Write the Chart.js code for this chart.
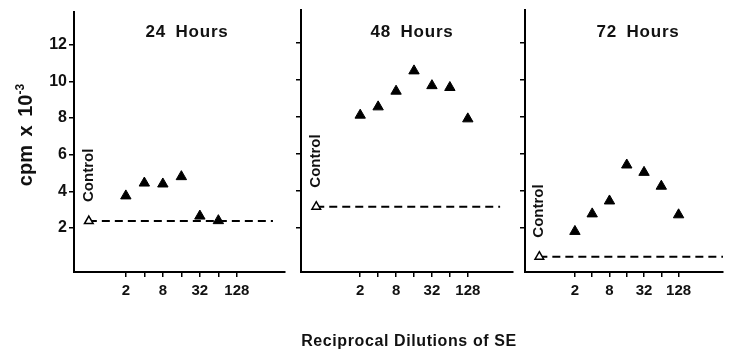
<!DOCTYPE html>
<html>
<head>
<meta charset="utf-8">
<script src="https://cdn.jsdelivr.net/npm/chart.js@4.4.0/dist/chart.umd.min.js"></script>
<style>
  body { margin: 0; background: #fff; }
  #wrap { position: relative; width: 730px; height: 350px; overflow: hidden; font-family: "Liberation Sans", Arial, sans-serif; color: #111; }
  #wrap canvas { position: absolute; left: 0; top: 0; }
  .ytitle { position: absolute; left: -80px; top: 121px; width: 200px; height: 28px; line-height: 28px; text-align: center; font-weight: bold; font-size: 20px; transform: rotate(-90deg); word-spacing: 3px; }
  .ytitle sup { font-size: 12px; }
  .xtitle { position: absolute; left: 259px; top: 332px; width: 300px; text-align: center; font-weight: bold; font-size: 16px; letter-spacing: 0.6px; }
</style>
</head>
<body>
<div id="wrap">
  <canvas id="c24" width="730" height="350"></canvas>
  <canvas id="c48" width="730" height="350"></canvas>
  <canvas id="c72" width="730" height="350"></canvas>
  <div class="ytitle">cpm x 10<sup>-3</sup></div>
  <div class="xtitle">Reciprocal Dilutions of SE</div>
</div>
<script>
// reciprocal dilutions of SE on the x axis
const dilutions = [2, 4, 8, 16, 32, 64, 128]
const xTickLabels = ['2', '', '8', '', '32', '', '128']
const yTicks = [2, 4, 6, 8, 10, 12]

const panelTitles = ['24 Hours', '48 Hours', '72 Hours']
// cpm x 10^-3 for each dilution
const cpm24 = [3.75, 4.45, 4.4, 4.8, 2.65, 2.4]
const cpm48 = [8.1, 8.55, 9.4, 10.5, 9.7, 9.6, 7.9]
const cpm72 = [1.8, 2.75, 3.45, 5.4, 5.0, 4.25, 2.7]
const controlCpm = [2.38, 3.14, 0.43]

const series = [cpm24, cpm48, cpm72]

// where each panel sits on the page
const layouts = [
   { canvas: 'c24', left: 74, right: 285, xMin: 0.287, xMax: 776, controlX: 0.5, dashEnd: 494, titleX: 187, yLabels: true },
   { canvas: 'c48', left: 301, right: 513, xMin: 0.203, xMax: 734, controlX: 0.366, dashEnd: 446, titleX: 412, yLabels: false },
   { canvas: 'c72', left: 525, right: 730, xMin: 0.27, xMax: 760, controlX: 0.48, dashEnd: 760, titleX: 638, yLabels: false }
]

Chart.defaults.font.family = '"Liberation Sans", Arial, sans-serif'
Chart.defaults.color = '#111'

const panelText = {
   id: 'panelText',
   afterDraw(chart, args, opts) {
      const { ctx, scales } = chart
      ctx.save()
      ctx.fillStyle = '#111'
      ctx.font = 'bold 17px "Liberation Sans", Arial, sans-serif'
      ctx.letterSpacing = '0.8px'
      ctx.wordSpacing = '4px'
      ctx.textAlign = 'center'
      ctx.textBaseline = 'middle'
      ctx.fillText(opts.title, opts.titleX, 32)

      const px = scales.x.getPixelForValue(opts.controlX)
      const py = scales.y.getPixelForValue(opts.control)
      ctx.translate(px, py - 19)
      ctx.rotate(-Math.PI / 2)
      ctx.letterSpacing = '0px'
      ctx.font = 'bold 15px "Liberation Sans", Arial, sans-serif'
      ctx.textAlign = 'left'
      ctx.fillText('Control', 0, 0)
      ctx.restore()
   }
}

layouts.forEach((lay, i) => {
   const values = series[i]
   const yWidth = lay.yLabels ? 34 : 6
   const points = values.map((v, j) => ({ x: dilutions[j], y: v }))
   const ctrl = controlCpm[i]

   new Chart(document.getElementById(lay.canvas), {
      type: 'scatter',
      data: {
         datasets: [
            {
               data: points,
               pointStyle: 'triangle',
               pointRadius: 6,
               backgroundColor: '#000',
               borderColor: '#000',
               borderWidth: 1
            },
            {
               data: [{ x: lay.controlX, y: ctrl }],
               pointStyle: 'triangle',
               pointRadius: 5,
               backgroundColor: '#fff',
               borderColor: '#000',
               borderWidth: 1.5
            },
            {
               type: 'line',
               data: [{ x: lay.controlX, y: ctrl }, { x: lay.dashEnd, y: ctrl }],
               borderColor: '#000',
               borderWidth: 2,
               borderDash: [8, 5],
               pointRadius: 0
            }
         ]
      },
      options: {
         responsive: false,
         animation: false,
         events: [],
         layout: { padding: { left: lay.left - yWidth, right: 730 - lay.right, top: 10, bottom: 0 } },
         plugins: {
            legend: { display: false },
            tooltip: { enabled: false },
            panelText: { title: panelTitles[i], titleX: lay.titleX, controlX: lay.controlX, control: ctrl }
         },
         scales: {
            x: {
               type: 'logarithmic',
               min: lay.xMin,
               max: lay.xMax,
               afterBuildTicks: s => { s.ticks = dilutions.map(v => ({ value: v })) },
               afterFit: s => { s.height = 78 },
               ticks: {
                  callback: (v, j) => xTickLabels[j],
                  font: { size: 15, weight: 'bold' },
                  color: '#111',
                  padding: 5,
                  maxRotation: 0,
                  autoSkip: false
               },
               grid: { drawOnChartArea: false, drawTicks: true, tickLength: 5, color: '#000', lineWidth: 1.5 },
               border: { color: '#000', width: 2 }
            },
            y: {
               min: -0.4,
               max: 13.8,
               afterBuildTicks: s => { s.ticks = yTicks.map(v => ({ value: v })) },
               afterFit: s => { s.width = yWidth },
               ticks: {
                  display: lay.yLabels,
                  font: { size: 16, weight: 'bold' },
                  color: '#111',
                  padding: 2
               },
               grid: { drawOnChartArea: false, drawTicks: true, tickLength: 5, color: '#000', lineWidth: 1.5 },
               border: { color: '#000', width: 2 }
            }
         }
      },
      plugins: [panelText]
   })
})
</script>
</body>
</html>
